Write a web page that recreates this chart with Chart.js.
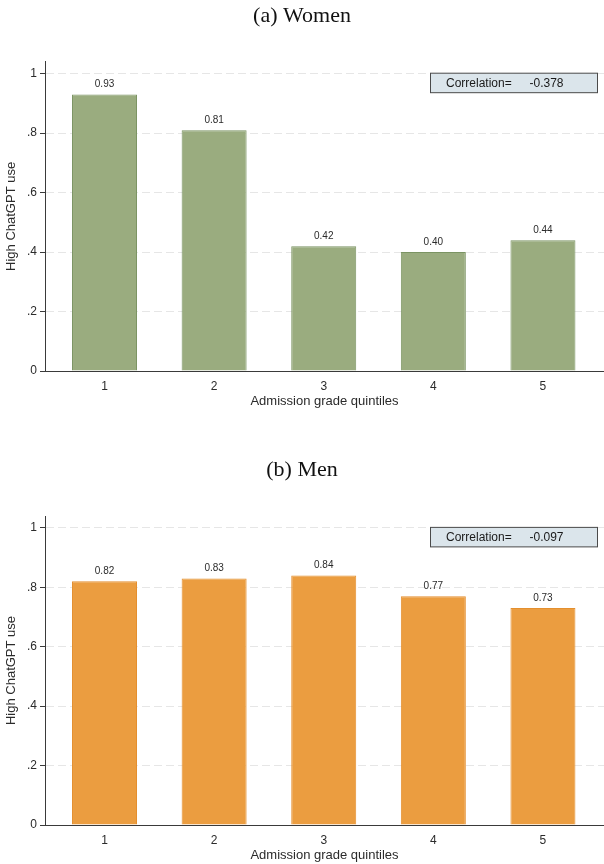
<!DOCTYPE html>
<html>
<head>
<meta charset="utf-8">
<script src="https://cdn.jsdelivr.net/npm/chart.js@4/dist/chart.umd.min.js"></script>
<style>
  html, body { margin: 0; padding: 0; background: #ffffff; }
  #wrap { width: 604px; height: 864px; position: relative; }
  .panel { position: absolute; left: 0; width: 604px; }
  #panelA { top: 0; height: 410px; }
  #panelB { top: 410px; height: 454px; }
</style>
</head>
<body>
<div id="wrap">
  <div class="panel" id="panelA"><canvas id="womenChart"></canvas></div>
  <div class="panel" id="panelB"><canvas id="menChart"></canvas></div>
</div>
<script>
// Share of students with high ChatGPT use, by admission grade quintile
const quintiles = ['1', '2', '3', '4', '5'];
const quintileValues = [1, 2, 3, 4, 5];
const womenShare = [0.93, 0.81, 0.42, 0.40, 0.44];
const menShare = [0.82, 0.83, 0.84, 0.77, 0.73];
const womenCorrelation = '-0.378';
const menCorrelation = '-0.097';
const yTickValues = [0, 0.2, 0.4, 0.6, 0.8, 1];
const yTickLabels = ['0', '.2', '.4', '.6', '.8', '1'];

const SANS = "'Liberation Sans', Arial, Helvetica, sans-serif";
const SERIF = "'Liberation Serif', 'Times New Roman', serif";
const INK = '#2b2b2b';

// Value printed above each bar
const barValueLabels = {
  id: 'barValueLabels',
  afterDatasetsDraw(chart) {
    const ctx = chart.ctx;
    const meta = chart.getDatasetMeta(0);
    const data = chart.data.datasets[0].data;
    ctx.save();
    ctx.font = '10px ' + SANS;
    ctx.fillStyle = INK;
    ctx.textAlign = 'center';
    ctx.textBaseline = 'middle';
    meta.data.forEach((bar, i) => {
      ctx.fillText(data[i].y.toFixed(2), bar.x, bar.y - 10);
    });
    ctx.restore();
  }
};

// Boxed correlation note in the top-right corner of the plot
const correlationBox = {
  id: 'correlationBox',
  afterDraw(chart, args, opts) {
    const ctx = chart.ctx;
    const area = chart.chartArea;
    const yTop = chart.scales.y.getPixelForValue(1) - 0.5;
    const x0 = area.right - 173.5;
    const w = 167;
    const h = 19.5;
    ctx.save();
    ctx.fillStyle = '#dbe5eb';
    ctx.fillRect(x0, yTop, w, h);
    ctx.strokeStyle = '#4a4a4a';
    ctx.lineWidth = 1;
    ctx.strokeRect(x0, yTop, w, h);
    ctx.font = '12px ' + SANS;
    ctx.fillStyle = '#1a1a1a';
    ctx.textBaseline = 'middle';
    ctx.textAlign = 'left';
    ctx.fillText('Correlation=', x0 + 15.5, yTop + h / 2 + 0.5);
    ctx.fillText(opts.value, x0 + 99, yTop + h / 2 + 0.5);
    ctx.restore();
  }
};

function makeChart(canvasId, title, values, fill, stroke, corr, titlePad) {
  const points = quintileValues.map((q, i) => ({ x: q, y: values[i] }));
  return new Chart(document.getElementById(canvasId), {
    type: 'bar',
    data: {
      datasets: [{
        data: points,
        backgroundColor: fill,
        borderColor: stroke,
        borderWidth: 1,
        borderSkipped: 'bottom',
        categoryPercentage: 1,
        barPercentage: 0.593
      }]
    },
    options: {
      responsive: true,
      maintainAspectRatio: false,
      animation: false,
      layout: { padding: 0 },
      plugins: {
        legend: { display: false },
        tooltip: { enabled: false },
        title: {
          display: true,
          text: title,
          color: '#111',
          font: { family: SERIF, size: 22, weight: 'normal' },
          padding: titlePad
        },
        correlationBox: { value: corr }
      },
      scales: {
        x: {
          type: 'linear',
          offset: false,
          min: 0.457,
          max: 5.557,
          afterBuildTicks(scale) {
            scale.ticks = quintileValues.map(v => ({ value: v }));
          },
          afterFit(scale) { scale.height = 39; },
          ticks: {
            color: INK,
            font: { family: SANS, size: 12 },
            padding: 0,
            maxRotation: 0,
            callback: (v, i) => quintiles[i]
          },
          grid: { display: false, offset: false },
          border: { display: true, color: '#3a3a3a', width: 1 },
          title: {
            display: true,
            text: 'Admission grade quintiles',
            color: INK,
            font: { family: SANS, size: 13 },
            padding: { top: 0, bottom: 0.5 }
          }
        },
        y: {
          min: 0,
          max: 1.04,
          afterBuildTicks(scale) {
            scale.ticks = yTickValues.map(v => ({ value: v }));
          },
          afterFit(scale) { scale.width = 45; },
          ticks: {
            color: INK,
            font: { family: SANS, size: 12 },
            padding: 3,
            callback: (v, i) => yTickLabels[i]
          },
          grid: {
            color: ctx => (ctx.tick && ctx.tick.value === 0 ? 'rgba(0,0,0,0)' : '#e6e6e6'),
            lineWidth: 1,
            drawTicks: true,
            tickLength: 5,
            tickColor: '#3a3a3a',
            tickBorderDash: []
          },
          border: { display: true, color: '#3a3a3a', width: 1, dash: [8, 4] },
          title: {
            display: true,
            text: 'High ChatGPT use',
            color: INK,
            font: { family: SANS, size: 13 },
            padding: { top: 4, bottom: 4 }
          }
        }
      }
    },
    plugins: [barValueLabels, correlationBox]
  });
}

makeChart('womenChart', '(a) Women', womenShare, '#9aac7f', '#7b9463',
  womenCorrelation, { top: 2.8, bottom: 32.6 });
makeChart('menChart', '(b) Men', menShare, '#eb9d40', '#e48f2e',
  menCorrelation, { top: 46.8, bottom: 32.8 });
</script>
</body>
</html>
